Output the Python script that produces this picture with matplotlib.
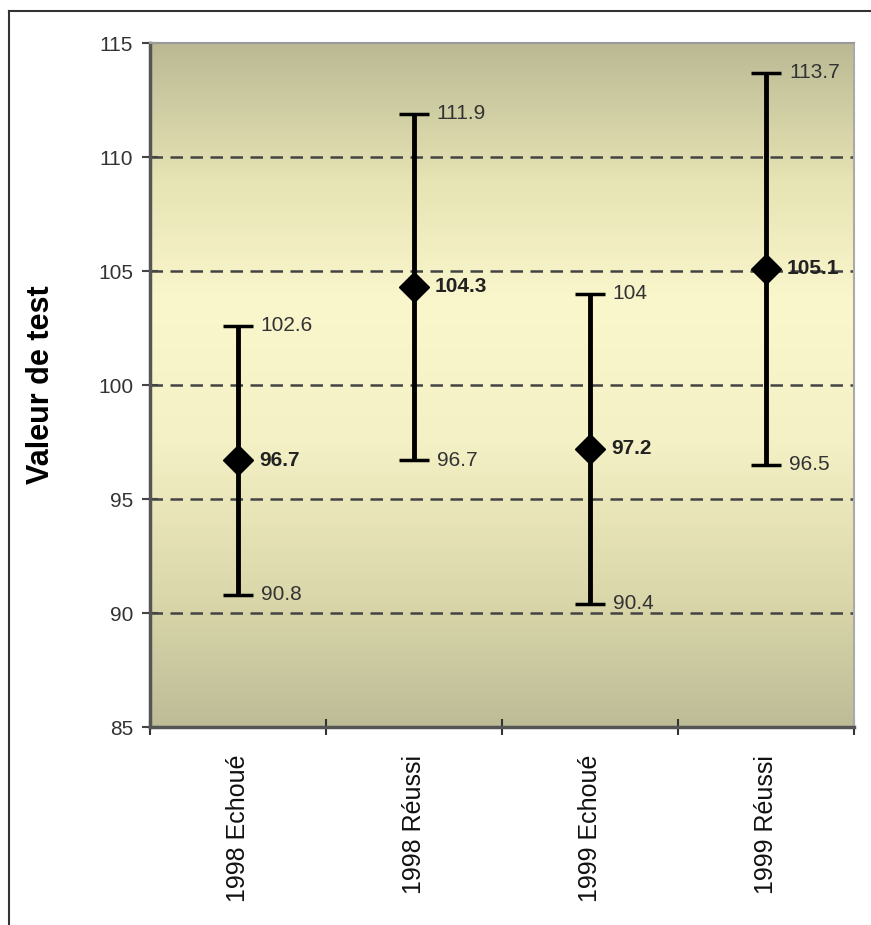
import numpy as np
import matplotlib
matplotlib.use('Agg')
import matplotlib.pyplot as plt
from matplotlib.colors import LinearSegmentedColormap
from matplotlib.lines import Line2D

plt.rcParams['font.family'] = ['Liberation Sans', 'DejaVu Sans']

# Données
groupes = ['1998 Echoué', '1998 Réussi', '1999 Echoué', '1999 Réussi']
moyenne = [96.7, 104.3, 97.2, 105.1]
haut = [102.6, 111.9, 104.0, 113.7]
bas = [90.8, 96.7, 90.4, 96.5]
lab_haut = ['102.6', '111.9', '104', '113.7']
lab_moy = ['96.7', '104.3', '97.2', '105.1']
lab_bas = ['90.8', '96.7', '90.4', '96.5']

fig = plt.figure(figsize=(8.71, 9.25), dpi=100)
ax = fig.add_axes([0.172, 0.214, 0.8085, 0.7395])

x = np.arange(len(groupes))

# fond en dégradé (olive -> jaune pâle -> olive)
cmap = LinearSegmentedColormap.from_list('fond', [
    (0.0, '#bdbc97'), (0.18, '#d9d6a9'), (0.42, '#f5f1c6'),
    (0.62, '#fbf7cd'), (0.80, '#e6e3b4'), (1.0, '#bab993')])
grad = np.linspace(0, 1, 256).reshape(-1, 1)
ax.imshow(grad, aspect='auto', cmap=cmap, extent=[-0.5, 3.5, 85, 115],
          origin='lower', zorder=0)

for yv in [90, 95, 100, 105, 110]:
    ax.axhline(yv, color='#444444', lw=1.8, ls=(0, (5, 3)), zorder=1)

moy = np.array(moyenne)
err = [moy - np.array(bas), np.array(haut) - moy]
ax.errorbar(x, moy, yerr=err, fmt='D', color='black', ms=15, lw=3.5,
            capsize=11, capthick=2.5, zorder=3)

for i in range(len(groupes)):
    ax.text(x[i] + 0.13, haut[i], lab_haut[i], fontsize=15, color='#333333',
            va='center', ha='left', zorder=4)
    ax.text(x[i] + 0.13, bas[i], lab_bas[i], fontsize=15, color='#333333',
            va='center', ha='left', zorder=4)
    ax.text(x[i] + 0.12, moyenne[i], lab_moy[i], fontsize=15, color='#222222',
            fontweight='bold', va='center', ha='left', zorder=4)

ax.set_xlim(-0.5, 3.5)
ax.set_ylim(85, 115)
ax.set_yticks([85, 90, 95, 100, 105, 110, 115])
ax.tick_params(axis='y', direction='inout', length=12, width=1.5,
               labelsize=15, labelcolor='#333333', color='#444444', pad=6)
ax.set_xticks(x)
ax.set_xticklabels(groupes, rotation=90, fontsize=18, color='#111111')
ax.tick_params(axis='x', which='major', length=0, pad=20)
ax.set_xticks(np.arange(-0.5, 4.0, 1.0), minor=True)
ax.tick_params(axis='x', which='minor', direction='inout', length=12,
               width=1.5, color='#333333')

ax.set_ylabel('Valeur de test', fontsize=22, fontweight='bold', labelpad=30)

ax.spines['left'].set_color('#555555')
ax.spines['left'].set_linewidth(2.5)
ax.spines['bottom'].set_color('#555555')
ax.spines['bottom'].set_linewidth(2.5)
ax.spines['top'].set_color('#999999')
ax.spines['top'].set_linewidth(1.5)
ax.spines['right'].set_color('#aaaaaa')
ax.spines['right'].set_linewidth(1.5)

# cadre autour de la figure (gauche et haut)
fig.add_artist(Line2D([0.0103, 0.0103], [0.0, 0.988], color='#333333', lw=1.5))
fig.add_artist(Line2D([0.0103, 0.999], [0.988, 0.988], color='#333333', lw=1.5))

fig.savefig('out.png', dpi=100)
